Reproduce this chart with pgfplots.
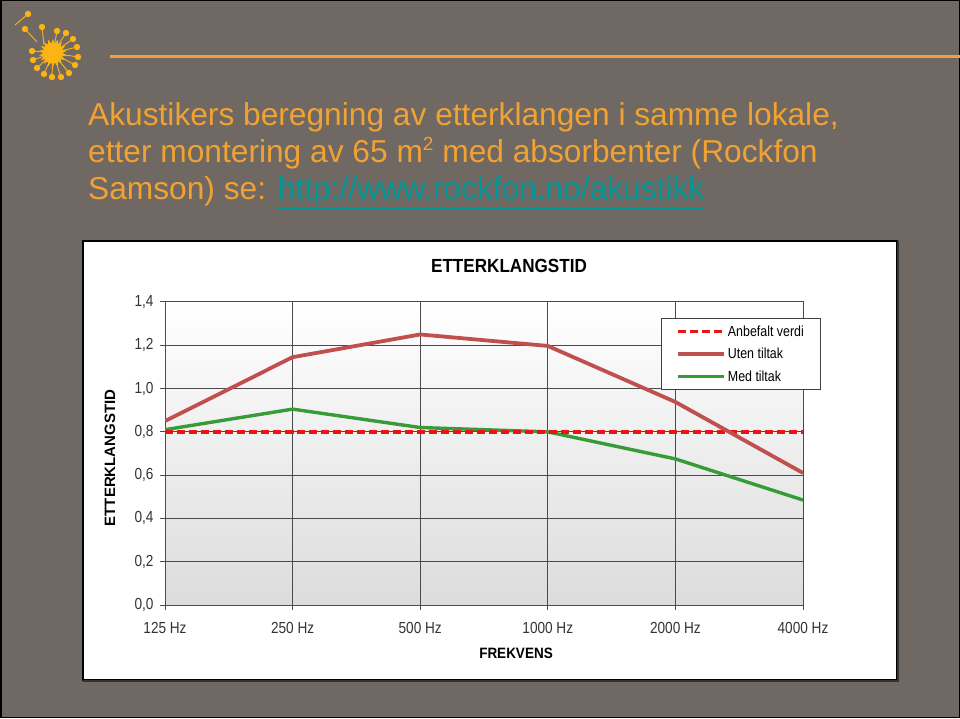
\documentclass[border=0pt]{standalone}
\usepackage{fontspec}
\setmainfont{Liberation Sans}
\newfontfamily\narrow[FakeStretch=0.85]{Liberation Sans}
\newfontfamily\narrowb[FakeStretch=0.9]{Liberation Sans}
\usepackage{pgfplots}
\pgfplotsset{compat=1.18}
\usetikzlibrary{shapes.geometric}
\definecolor{slidebg}{RGB}{112,104,99}
\definecolor{orng}{RGB}{240,162,50}
\definecolor{sunc}{RGB}{250,180,20}
\definecolor{linkc}{RGB}{0,150,150}
\definecolor{uten}{RGB}{192,80,77}
\definecolor{med}{RGB}{55,155,55}
\definecolor{anb}{RGB}{235,20,20}
\definecolor{gridc}{RGB}{75,75,75}
\definecolor{bandc}{RGB}{220,220,220}
\begin{document}
\begin{tikzpicture}
\begin{scope}[x=1pt,y=1pt]
\useasboundingbox (0,0) rectangle (960,718);
\fill[slidebg] (0,0) rectangle (960,718);
\draw[black,line width=1.5pt] (0.75,0.75) rectangle (959.25,717.25);
% logo
\foreach \px/\py in {57/31,66/33,73/39,77/47,78/57,75/65,69/73,61/77,52/77,44/74,37/68,33/60,32/51}{
  \draw[sunc,line width=0.9pt] (53,665) -- (\px,718-\py);
  \fill[sunc] (\px,718-\py) circle[radius=3.2];
}
\draw[sunc,line width=0.9pt] (37,676) -- (25,689);
\fill[sunc] (25,689) circle[radius=3.2];
\draw[sunc,line width=0.9pt] (44,673) -- (42,691);
\fill[sunc] (42,691) circle[radius=3.2];
\draw[sunc,line width=0.9pt] (15,693) -- (28,704);
\fill[sunc] (28,704) circle[radius=3.2];
\node[star,star points=18,star point ratio=1.45,fill=sunc,minimum size=28pt,inner sep=0pt] at (53,665) {};
\draw[orng,line width=3pt] (110,661) -- (960,661);
% slide title
\node[anchor=base west,inner sep=0pt,text=orng,font=\fontsize{31.7}{31.7}\selectfont] at (88,592) {Akustikers beregning av etterklangen i samme lokale,};
\node[anchor=base west,inner sep=0pt,text=orng,font=\fontsize{31.7}{31.7}\selectfont] at (88,555) {etter montering av 65 m\raisebox{12pt}{\fontsize{19}{19}\selectfont 2} med absorbenter (Rockfon};
\node[anchor=base west,inner sep=0pt,text=orng,font=\fontsize{31.7}{31.7}\selectfont] at (88,518) {Samson) se: \textcolor{linkc}{\underline{http://www.rockfon.no/akustikk}}};
% chart box
\fill[white] (83,38) rectangle (897,477);
\draw[black,line width=1.2pt] (83,38) rectangle (897,477);
\draw[black!80,line width=1.5pt] (898,477) -- (898,37) -- (83,37);
% chart texts
\node[font=\narrowb\bfseries\fontsize{19}{19}\selectfont] at (509,452) {ETTERKLANGSTID};
\node[rotate=90,font=\bfseries\fontsize{15}{15}\selectfont] at (110,260) {ETTERKLANGSTID};
\node[font=\narrowb\bfseries\fontsize{15}{15}\selectfont] at (516,65) {FREKVENS};
\end{scope}
\begin{axis}[
  at={(165pt,113pt)}, anchor=south west,
  scale only axis, width=638pt, height=303pt,
  xmin=0, xmax=5, ymin=0, ymax=1.4,
  xtick={0,1,2,3,4,5},
  xticklabels={125 Hz,250 Hz,500 Hz,1000 Hz,2000 Hz,4000 Hz},
  ytick={0,0.2,0.4,0.6,0.8,1.0,1.2,1.4},
  /pgf/number format/assume math mode=true,
  yticklabel={\pgfmathprintnumber[fixed,fixed zerofill,precision=1,use comma,assume math mode=true]{\tick}},
  tick label style={font=\narrow\fontsize{16}{16}\selectfont, text=black!80},
  xticklabel style={yshift=-9pt},
  yticklabel style={xshift=-3pt},
  tick align=outside, xtick pos=bottom, ytick pos=left,
  major tick length=5pt,
  tick style={gridc, line width=1pt},
  grid=major,
  major grid style={gridc, line width=1pt},
  axis line style={gridc, line width=1pt},
  axis background/.style={top color=white, bottom color=bandc},
  legend style={at={(0.777,0.947)}, anchor=north west, draw=black!75, line width=0.8pt,
    fill=white, font=\narrow\fontsize{14.6}{14.6}\selectfont, row sep=6.5pt,
    inner xsep=15pt, inner ysep=5pt, cells={anchor=west}},
  legend image code/.code={\draw[#1] (0pt,0pt) -- (46pt,0pt);},
]
\addplot[med, line width=3.4pt, forget plot] coordinates {(0,0.81)(1,0.905)(2,0.82)(3,0.80)(4,0.675)(5,0.485)};
\addplot[anb, line width=3.3pt, dash pattern=on 8pt off 4pt, forget plot] coordinates {(0,0.8)(1,0.8)(2,0.8)(3,0.8)(4,0.8)(5,0.8)};
\addplot[uten, line width=3.8pt, forget plot] coordinates {(0,0.85)(1,1.145)(2,1.25)(3,1.197)(4,0.938)(5,0.61)};
\addlegendimage{anb, line width=3.3pt, dash pattern=on 8pt off 4pt}
\addlegendentry{Anbefalt verdi}
\addlegendimage{uten, line width=3.8pt}
\addlegendentry{Uten tiltak}
\addlegendimage{med, line width=3.4pt}
\addlegendentry{Med tiltak}
\end{axis}
\end{tikzpicture}
\end{document}
